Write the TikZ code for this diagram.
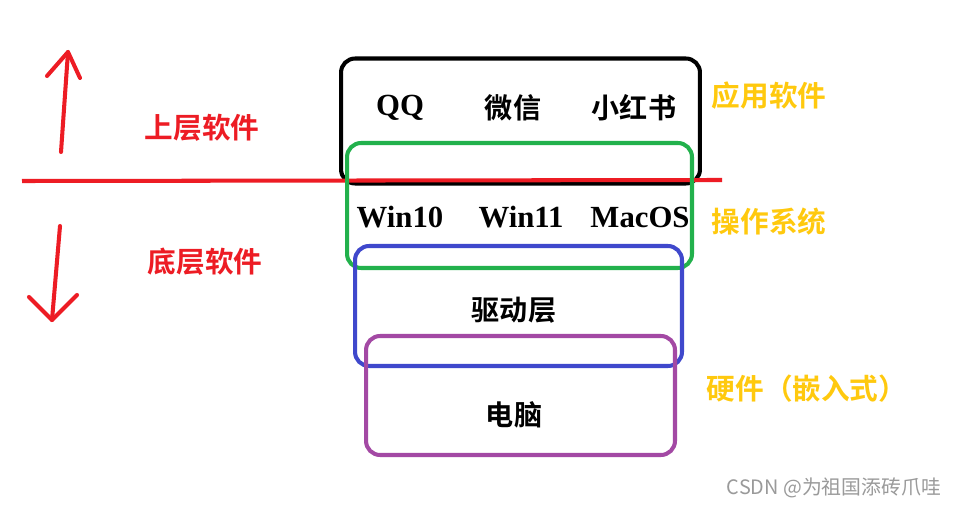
\documentclass[tikz,border=0pt]{standalone}
\usepackage{fontspec}
\setmainfont{Liberation Serif}
\newfontfamily\cjk{Noto Sans CJK SC}
\newfontfamily\cjkb{Noto Sans CJK SC Bold}
\definecolor{paintred}{HTML}{ED1C24}
\definecolor{paintgreen}{HTML}{22B14C}
\definecolor{paintblue}{HTML}{3F48CC}
\definecolor{paintpurple}{HTML}{A349A4}
\definecolor{paintyellow}{HTML}{FFC90E}
\definecolor{markgrey}{HTML}{9A9A9A}

\begin{document}
\begin{tikzpicture}[
  x=0.02cm, y=-0.02cm,
  layer/.style={draw=#1, rounded corners=8pt, line width=2.3pt, inner sep=0pt},
  stroke/.style={paintred, line width=2.3pt, line cap=round, line join=round},
  lat/.style={font=\fontsize{17.5}{20}\selectfont\bfseries},
  han/.style={font=\fontsize{16}{19}\selectfont\cjkb},
  side/.style={font=\fontsize{16.3}{19}\selectfont\cjkb, text=#1},
]
\useasboundingbox[fill=white] (0,0) rectangle (955,506);

% layers
\node[layer=black, minimum width=7.18cm, minimum height=2.5cm] (appbox) at (520.5,121) {};
\draw[paintred, line width=2.3pt] (22,181) coordinate (cutL) -- (722,180) coordinate (cutR);
\node[layer=paintgreen, minimum width=6.9cm, minimum height=2.5cm] (osbox) at (519.5,205.5) {};
\node[layer=paintblue, minimum width=6.54cm, minimum height=2.4cm] (drvbox) at (518.5,306) {};
\node[layer=paintpurple, minimum width=6.18cm, minimum height=2.38cm] (pcbox) at (520.5,395.5) {};

% texts in the layers
\node[lat] (qq) at (400,108) {QQ};
\node[han] (wechat) at (513,108) {微信};
\node[han] (rednote) at (634,108) {小红书};
\node[lat] (win10) at (400,217) {Win10};
\node[lat] (win11) at (521,217) {Win11};
\node[lat] (macos) at (640,217) {MacOS};
\node[han] (driver) at (514,310) {驱动层};
\node[han] (pc) at (514,415) {电脑};

% arrows
\coordinate (upfoot) at (61,152);
\coordinate (uptip) at (68,52);
\coordinate (upl) at (47,76);
\coordinate (upr) at (80,78);
\draw[stroke] (upfoot) -- (uptip);
\draw[stroke] (upl) -- (uptip) -- (upr);
\coordinate (dnfoot) at (60,226);
\coordinate (dntip) at (52,320);
\coordinate (dnl) at (29,297);
\coordinate (dnr) at (77,295);
\draw[stroke] (dnfoot) -- (dntip);
\draw[stroke] (dnl) -- (dntip) -- (dnr);

% side labels
\node[side=paintred] (upper) at (202,128) {上层软件};
\node[side=paintred] (lower) at (205,262) {底层软件};
\node[side=paintyellow] (app) at (769,96) {应用软件};
\node[side=paintyellow] (os) at (769,222) {操作系统};
\node[side=paintyellow] (hw) at (807,389) {硬件（嵌入式）};
\node[font=\fontsize{11.3}{14}\selectfont\cjk, text=markgrey] (mark) at (834,488) {CSDN @为祖国添砖爪哇};
\end{tikzpicture}
\end{document}
